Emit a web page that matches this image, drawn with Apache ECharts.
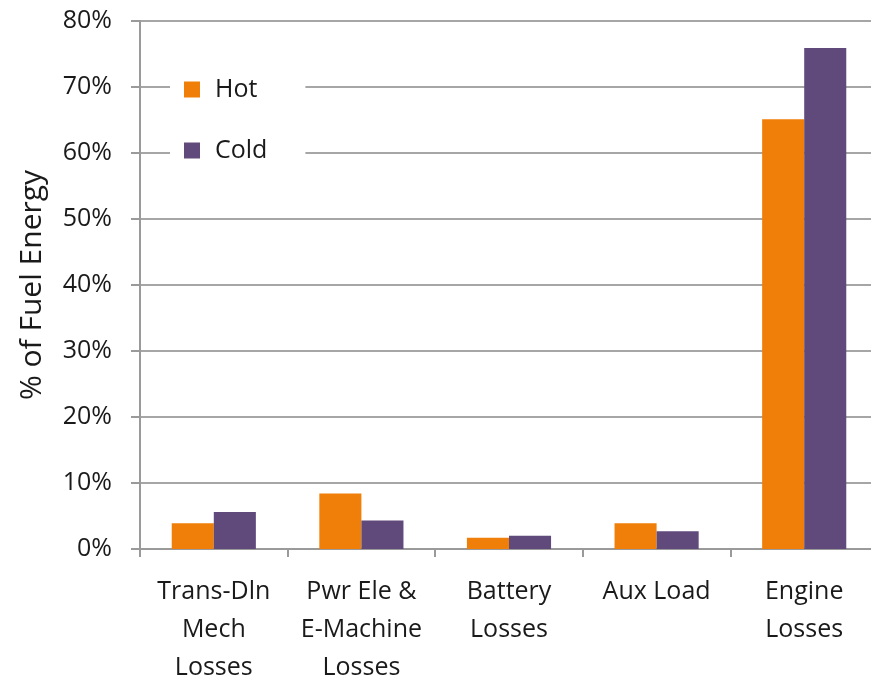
<!DOCTYPE html>
<html>
<head>
<meta charset="utf-8">
<script src="https://cdn.jsdelivr.net/npm/echarts@6/dist/echarts.min.js"></script>
<style>
  html, body { margin: 0; padding: 0; background: #fff; overflow: hidden; }
  #chart { width: 871px; height: 677px; }
</style>
</head>
<body>
<div id="chart"></div>
<script>
// Energy loss breakdown, hot vs cold start
const categories = ['Trans-Dln\nMech\nLosses', 'Pwr Ele &\nE-Machine\nLosses', 'Battery\nLosses', 'Aux Load', 'Engine\nLosses'];
const hotValues = [3.9, 8.4, 1.7, 3.9, 65.1];
const coldValues = [5.6, 4.3, 2.0, 2.7, 75.9];
const yTicks = { min: 0, max: 80, interval: 10 };

const FONT = '"Open Sans", sans-serif';
const chart = echarts.init(document.getElementById('chart'), null, { renderer: 'canvas' });

chart.setOption({
  animation: false,
  backgroundColor: '#ffffff',
  grid: {
    left: 140, right: -7, top: 21, bottom: 128,
    containLabel: false, outerBoundsMode: 'none'
  },
  legend: {
    orient: 'vertical',
    left: 170,
    top: 60,
    padding: [17, 38, 17, 14],
    backgroundColor: '#ffffff',
    itemWidth: 16,
    itemHeight: 16,
    itemGap: 36,
    icon: 'rect',
    textStyle: { fontFamily: FONT, fontSize: 25, lineHeight: 24, color: '#1a1a1a', padding: [0, 0, 0, 10] },
    data: ['Hot', 'Cold']
  },
  xAxis: {
    type: 'category',
    data: categories,
    axisLine: { lineStyle: { color: '#9a9a9a', width: 2 } },
    axisTick: { show: true, length: 8, lineStyle: { color: '#9a9a9a', width: 2 } },
    axisLabel: {
      fontFamily: FONT, fontSize: 25, color: '#1a1a1a',
      lineHeight: 38, margin: 24, interval: 0
    }
  },
  yAxis: {
    type: 'value',
    min: yTicks.min,
    max: yTicks.max,
    interval: yTicks.interval,
    name: '% of Fuel Energy',
    nameLocation: 'middle',
    nameRotate: 90,
    nameGap: 93,
    nameTextStyle: { fontFamily: FONT, fontSize: 30, color: '#1a1a1a' },
    axisLine: { show: true, lineStyle: { color: '#9a9a9a', width: 2 } },
    axisTick: { show: true, length: 9, lineStyle: { color: '#9a9a9a', width: 2 } },
    axisLabel: {
      fontFamily: FONT, fontSize: 25, color: '#1a1a1a', margin: 28,
      formatter: '{value}%'
    },
    splitLine: { show: true, lineStyle: { color: '#a6a6a6', width: 2 } }
  },
  series: [
    {
      name: 'Hot', type: 'bar', data: hotValues,
      itemStyle: { color: '#F07F09' },
      barGap: '0%', barCategoryGap: '43%'
    },
    {
      name: 'Cold', type: 'bar', data: coldValues,
      itemStyle: { color: '#604A7B' },
      barGap: '0%', barCategoryGap: '43%'
    }
  ]
});
</script>
</body>
</html>
